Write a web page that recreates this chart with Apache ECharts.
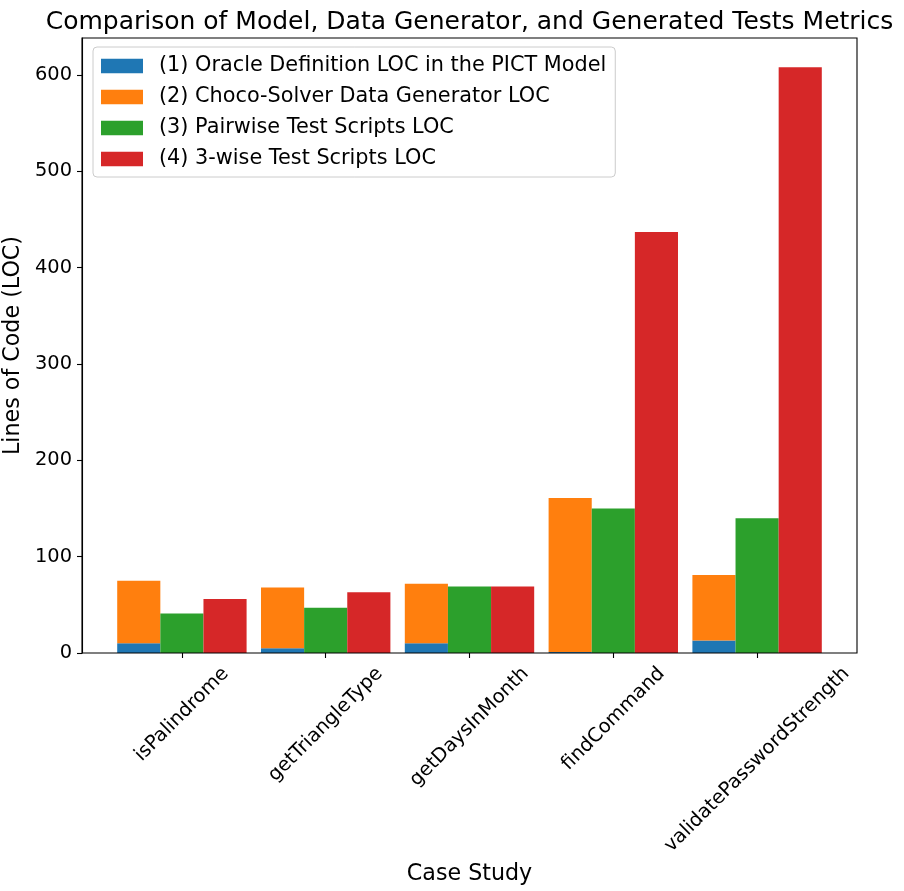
<!DOCTYPE html>
<html>
<head>
<meta charset="utf-8">
<script src="https://cdn.jsdelivr.net/npm/echarts@6/dist/echarts.min.js"></script>
<style>
  html, body { margin: 0; padding: 0; background: #fff; }
  #chart { width: 904px; height: 891px; }
</style>
</head>
<body>
<div id="chart"></div>
<script>
// ---- data ----
const categories = ['isPalindrome', 'getTriangleType', 'getDaysInMonth', 'findCommand', 'validatePasswordStrength'];
const seriesNames = [
  '(1) Oracle Definition LOC in the PICT Model',
  '(2) Choco-Solver Data Generator LOC',
  '(3) Pairwise Test Scripts LOC',
  '(4) 3-wise Test Scripts LOC'
];
const oracleLOC   = [10, 5, 10, 1, 13];
const chocoLOC    = [65, 63, 62, 160, 68];   // stacked on top of oracle LOC
const pairwiseLOC = [41, 47, 69, 150, 140];
const threewiseLOC = [56, 63, 69, 437, 608];
const yTicks = [0, 100, 200, 300, 400, 500, 600];
const colors = ['#1f77b4', '#ff7f0e', '#2ca02c', '#d62728'];

// ---- layout helpers ----
const FONT = 'DejaVu Sans';
const tickFont = 19.4;
const yMax = Math.max(...threewiseLOC, ...pairwiseLOC) * 1.05;

// centered 45deg rotated tick labels (matplotlib style): offset each label by its own size
const ctx = document.createElement('canvas').getContext('2d');
ctx.font = tickFont + 'px "' + FONT + '"';
const rich = {};
categories.forEach((c, i) => {
  const w = ctx.measureText(c).width;
  const D = 9.7 + (w + tickFont * 1.16) * Math.SQRT1_2 / 2;
  const p = D * Math.SQRT2;
  rich['c' + i] = { fontSize: tickFont, fontFamily: FONT, color: '#000', padding: [p, p, 0, 0] };
});

const chart = echarts.init(document.getElementById('chart'), null, { renderer: 'canvas' });

const barW = 43.13;
const option = {
  animation: false,
  backgroundColor: '#fff',
  title: {
    text: 'Comparison of Model, Data Generator, and Generated Tests Metrics',
    left: 469.5,
    textAlign: 'center',
    top: 10,
    padding: 0,
    textStyle: { fontFamily: FONT, fontSize: 25, fontWeight: 'normal', color: '#000' }
  },
  legend: {
    data: seriesNames,
    orient: 'vertical',
    left: 93,
    top: 47,
    icon: 'rect',
    itemWidth: 42,
    itemHeight: 14.5,
    itemGap: 10,
    backgroundColor: 'rgba(255,255,255,0.8)',
    borderColor: '#cccccc',
    borderWidth: 1,
    borderRadius: 4,
    padding: [8.5, 9, 7.5, 8],
    textStyle: { fontFamily: FONT, fontSize: 20.8, color: '#000', padding: [0, 0, 0, 11] }
  },
  grid: [
    { left: 82, right: 47, top: 38, bottom: 238, show: true, borderColor: '#000', borderWidth: 1.1,
      backgroundColor: 'transparent', containLabel: false, outerBoundsMode: 'none', z: 10 },
    { left: 110, width: 719, top: 38, bottom: 238, containLabel: false, outerBoundsMode: 'none' }
  ],
  xAxis: [
    { gridIndex: 0, type: 'value', min: 0, max: 1, show: false },
    {
      gridIndex: 1, type: 'category', data: categories,
      axisLine: { show: false },
      axisTick: { show: true, alignWithLabel: true, length: 5, lineStyle: { color: '#000', width: 1.1 } },
      axisLabel: {
        interval: 0, rotate: 45, align: 'center', verticalAlign: 'middle', margin: 0,
        formatter: (v, i) => '{c' + i + '|' + v + '}',
        rich: rich
      },
      name: 'Case Study', nameLocation: 'middle', nameGap: 203,
      nameTextStyle: { fontFamily: FONT, fontSize: 22.2, color: '#000' }
    }
  ],
  yAxis: [
    {
      gridIndex: 0, type: 'value', min: 0, max: yMax,
      axisLine: { show: true, lineStyle: { color: '#000', width: 1.1 } },
      axisTick: { show: true, length: 5, customValues: yTicks, lineStyle: { color: '#000', width: 1.1 } },
      axisLabel: { customValues: yTicks, margin: 10, fontFamily: FONT, fontSize: tickFont, color: '#000' },
      splitLine: { show: false },
      name: 'Lines of Code (LOC)', nameLocation: 'middle', nameGap: 50,
      nameTextStyle: { fontFamily: FONT, fontSize: 22.2, color: '#000' }
    },
    { gridIndex: 1, type: 'value', min: 0, max: yMax, show: false, splitLine: { show: false } }
  ],
  series: [
    { name: seriesNames[0], type: 'bar', xAxisIndex: 1, yAxisIndex: 1, stack: 'gen', data: oracleLOC,
      barWidth: barW, barGap: '0%', itemStyle: { color: colors[0] } },
    { name: seriesNames[1], type: 'bar', xAxisIndex: 1, yAxisIndex: 1, stack: 'gen', data: chocoLOC,
      barWidth: barW, barGap: '0%', itemStyle: { color: colors[1] } },
    { name: seriesNames[2], type: 'bar', xAxisIndex: 1, yAxisIndex: 1, data: pairwiseLOC,
      barWidth: barW, barGap: '0%', itemStyle: { color: colors[2] } },
    { name: seriesNames[3], type: 'bar', xAxisIndex: 1, yAxisIndex: 1, data: threewiseLOC,
      barWidth: barW, barGap: '0%', itemStyle: { color: colors[3] } }
  ]
};
chart.setOption(option);
</script>
</body>
</html>
